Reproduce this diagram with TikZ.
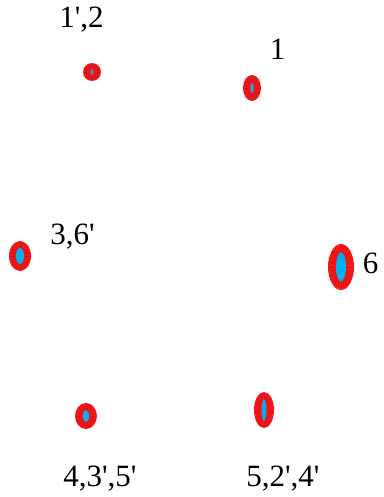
\documentclass[tikz,border=0pt]{standalone}
\usepackage{fontspec}
\setmainfont{Liberation Serif}
\usetikzlibrary{positioning}

\definecolor{spotred}{RGB}{250,22,22}
\definecolor{streakred}{RGB}{200,20,30}
\definecolor{spotblue}{RGB}{0,176,240}

\tikzset{
  ring/.style={fill=spotred},
  streak/.style={streakred, line width=0.6pt},
  core/.style={fill=spotblue},
  lbl/.style={font=\fontsize{31}{37}\selectfont, inner sep=0pt, anchor=base}
}

% centre x, centre y, outer radii, inner radii
\newcommand{\drawspot}[6]{%
  \fill[ring] (#1,#2) ellipse ({#3} and {#4});
  \foreach \a in {0,15,...,345}
    \draw[streak] ({#1+0.45*#3*cos(\a)},{#2+0.45*#4*sin(\a)}) -- ({#1+0.92*#3*cos(\a)},{#2+0.92*#4*sin(\a)});
  \fill[core] (#1,#2) ellipse ({#5} and {#6});
}

\begin{document}
\begin{tikzpicture}[x=1pt, y=-1pt]
    \useasboundingbox (0,0) rectangle (383,497);

    % Spots
    \drawspot{92}{72}{9}{9}{1.5}{2}
    \drawspot{252}{88}{9}{13}{1.5}{5}
    \drawspot{20}{256}{11}{15}{4}{8}
    \drawspot{341}{267}{13}{23}{5}{14.5}
    \drawspot{86}{416}{11}{13}{3}{6}
    \drawspot{264}{410}{10}{18}{2.2}{11}

    % Labels
    \node[lbl] (labA) at (81.5,28) {1\textquotesingle,2};
    \node[lbl] (labB) at (277.5,60) {1};
    \node[lbl] (labC) at (72.5,244) {3,6\textquotesingle};
    \node[lbl] (labD) at (370.5,273) {6};
    \node[lbl] (labE) at (100,486) {4,3\textquotesingle,5\textquotesingle};
    \node[lbl] (labF) at (283,486) {5,2\textquotesingle,4\textquotesingle};
\end{tikzpicture}
\end{document}
